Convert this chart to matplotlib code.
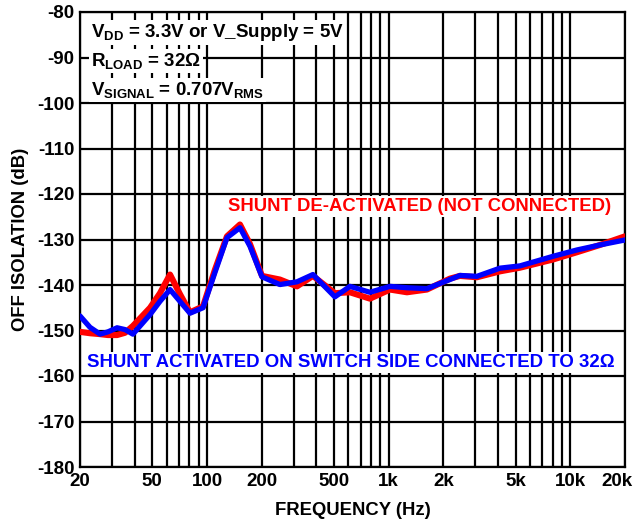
import matplotlib
matplotlib.use("Agg")
import matplotlib.pyplot as plt
import matplotlib.transforms as mtransforms
from matplotlib.ticker import FixedLocator, NullFormatter

plt.rcParams["font.family"] = ["Liberation Sans", "DejaVu Sans"]
plt.rcParams["font.weight"] = "bold"
plt.rcParams["axes.unicode_minus"] = False
plt.rcParams["mathtext.fontset"] = "custom"
plt.rcParams["mathtext.rm"] = "Liberation Sans:bold"
plt.rcParams["mathtext.bf"] = "Liberation Sans:bold"
plt.rcParams["mathtext.default"] = "bf"

# Fréquences (Hz) et isolation (dB)
freq = [20, 22.7, 25.8, 28.5, 32.0, 35.4, 39.1, 48.6, 55.1, 62.6, 71.0, 80.6,
        95.1, 110.7, 128.8, 151.9, 172.5, 200.8, 252, 313, 383, 506, 612, 789,
        1017, 1261, 1624, 2174, 2468, 3061, 4098, 5280, 8023, 10870, 14556, 20000]
shunt_off = [-150.3, -150.6, -150.8, -151.0, -151.0, -150.5, -149.0, -145.0, -141.8,
             -137.7, -142.0, -146.0, -144.7, -136.6, -129.3, -126.7, -131.0, -138.0,
             -138.8, -140.3, -138.0, -141.8, -141.6, -143.0, -141.0, -141.6, -141.0,
             -138.6, -138.0, -138.3, -137.0, -136.2, -134.4, -132.8, -131.2, -129.3]
shunt_on = [-146.8, -149.3, -150.8, -150.3, -149.4, -149.8, -150.8, -146.5, -143.6,
            -141.0, -143.6, -146.2, -145.0, -137.2, -129.6, -127.4, -131.5, -138.2,
            -139.9, -139.3, -137.7, -142.6, -140.3, -141.6, -140.3, -140.6, -140.8,
            -138.8, -137.9, -138.1, -136.3, -135.8, -133.7, -132.3, -131.2, -130.1]

xticks = [20, 50, 100, 200, 500, 1000, 2000, 5000, 10000, 20000]
xlabels = ["20", "50", "100", "200", "500", "1k", "2k", "5k", "10k", "20k"]
yticks = list(range(-180, -79, 10))

fig = plt.figure(figsize=(6.36, 5.21), dpi=100)
ax = fig.add_axes([80 / 636, 1 - 467 / 521, 545 / 636, 455 / 521])

ax.plot(freq, shunt_off, color="#ff0000", lw=4.4, solid_capstyle="round", zorder=3)
ax.plot(freq, shunt_on, color="#0000ff", lw=3.8, solid_capstyle="round", zorder=4)

ax.set_xscale("log")
ax.set_xlim(20, 20000)
ax.set_ylim(-180, -80)
ax.xaxis.set_major_locator(FixedLocator(xticks))
ax.set_xticklabels(xlabels)
minors = [m * d for d in (10, 100, 1000) for m in range(2, 10)]
ax.xaxis.set_minor_locator(FixedLocator([v for v in minors if 20 < v < 20000]))
ax.xaxis.set_minor_formatter(NullFormatter())
ax.set_yticks(yticks)

ax.grid(True, which="both", color="black", lw=1.6, zorder=1)
ax.tick_params(which="both", length=0, labelsize=13.5, pad=4)
for s in ax.spines.values():
    s.set_linewidth(1.6)

# dernier label légèrement décalé pour rester dans l'image
last = ax.get_xticklabels()[-1]
last.set_transform(last.get_transform() +
                   mtransforms.ScaledTranslation(-6 / 72, 0, fig.dpi_scale_trans))

ax.set_xlabel("FREQUENCY (Hz)", fontsize=13.3, fontweight="bold", labelpad=9)
ax.set_ylabel("OFF ISOLATION (dB)", fontsize=13.3, fontweight="bold", labelpad=6)

box = dict(facecolor="white", edgecolor="none", pad=1.5)
ax.text(0.02, 0.955, r"V$_{DD}$ = 3.3V or V_Supply = 5V", transform=ax.transAxes,
        fontsize=13.5, va="center", ha="left", bbox=box, zorder=5)
ax.text(0.02, 0.893, r"R$_{LOAD}$ = 32Ω", transform=ax.transAxes,
        fontsize=13.5, va="center", ha="left", bbox=box, zorder=5)
ax.text(0.02, 0.828, r"V$_{SIGNAL}$ = 0.707V$_{RMS}$", transform=ax.transAxes,
        fontsize=13.5, va="center", ha="left", bbox=box, zorder=5)
ax.text(0.975, 0.572, "SHUNT DE-ACTIVATED (NOT CONNECTED)", transform=ax.transAxes,
        fontsize=13.3, color="#ff0000", va="center", ha="right", bbox=box, zorder=5)
ax.text(0.012, 0.23, "SHUNT ACTIVATED ON SWITCH SIDE CONNECTED TO 32Ω",
        transform=ax.transAxes, fontsize=13.4, color="#0000ff", va="center",
        ha="left", bbox=box, zorder=5)

fig.savefig("out.png", dpi=100)
